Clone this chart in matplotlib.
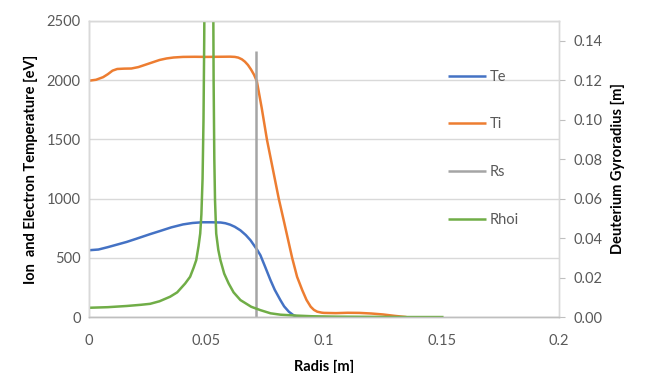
import matplotlib
matplotlib.use("Agg")
import matplotlib.pyplot as plt
from matplotlib.ticker import FixedLocator, FormatStrFormatter

plt.rcParams['font.family'] = ['Lato', 'DejaVu Sans']

# Data
te_x = [0.000, 0.004, 0.008, 0.012, 0.016, 0.020, 0.026, 0.030, 0.035, 0.040, 0.044, 0.048,
        0.052, 0.056, 0.058, 0.060, 0.062, 0.0644, 0.0667, 0.0687, 0.0715, 0.0729, 0.0750,
        0.0772, 0.0790, 0.0814, 0.0830, 0.0850, 0.0870, 0.0886, 0.0900, 0.0920]
te_y = [564, 570, 590, 612, 634, 660, 700, 725, 757, 782, 794, 800,
        800, 798, 792, 780, 762, 732, 692, 648, 568, 522, 420,
        311, 230, 143, 90, 45, 15, 3, 0, 0]

ti_x = [0.000, 0.003, 0.006, 0.008, 0.010, 0.012, 0.015, 0.018, 0.021, 0.024, 0.027, 0.030,
        0.033, 0.036, 0.040, 0.045, 0.050, 0.055, 0.060, 0.062, 0.0635, 0.065, 0.0663,
        0.0676, 0.0689, 0.0702, 0.0714, 0.0735, 0.0757, 0.078, 0.0807, 0.083, 0.0864,
        0.0885, 0.0907, 0.0925, 0.0943, 0.0957, 0.0971, 0.099, 0.100, 0.105, 0.110,
        0.115, 0.120, 0.125, 0.130, 0.135]
ti_y = [1995, 2003, 2025, 2050, 2080, 2094, 2097, 2098, 2110, 2130, 2150, 2170,
        2183, 2191, 2196, 2197, 2196, 2197, 2198, 2196, 2190, 2176, 2156,
        2128, 2090, 2045, 1990, 1760, 1496, 1268, 1000, 800, 500,
        340, 227, 145, 87, 60, 45, 37, 35, 33, 36,
        35, 30, 22, 10, 0]

rs_x = [0.0709, 0.0709]
rs_y = [0, 2250]

rhoi_x = [0.000, 0.008, 0.016, 0.022, 0.026, 0.030, 0.0345, 0.0375, 0.0409, 0.043, 0.0445,
          0.0456, 0.0466, 0.0473, 0.0478, 0.0483, 0.0487, 0.0490, 0.0493,
          0.0527, 0.0530, 0.0533, 0.0536, 0.0541, 0.0550, 0.0559, 0.0575, 0.0594, 0.0615,
          0.0644, 0.0690, 0.0729, 0.0772, 0.0814, 0.087, 0.095, 0.105, 0.120, 0.135, 0.1508]
rhoi_y = [0.0047, 0.0050, 0.0056, 0.0062, 0.0067, 0.0080, 0.0103, 0.0125, 0.0170, 0.0204, 0.0250,
          0.0288, 0.0360, 0.0423, 0.0520, 0.0700, 0.1000, 0.1400, 0.2000,
          0.2000, 0.1200, 0.0800, 0.0591, 0.0423, 0.0340, 0.0288, 0.0220, 0.0170, 0.0125,
          0.0086, 0.0052, 0.0035, 0.0019, 0.0012, 0.0008, 0.0004, 0.0002, 0.0001, 0.0000, 0.0000]

left_ticks = [0, 500, 1000, 1500, 2000, 2500]
right_ticks = [0.00, 0.02, 0.04, 0.06, 0.08, 0.10, 0.12, 0.14]
x_ticks = [0, 0.05, 0.1, 0.15, 0.2]
x_labels = ['0', '0.05', '0.1', '0.15', '0.2']

C_TE = '#4472C4'
C_TI = '#ED7D31'
C_RS = '#A5A5A5'
C_RHO = '#70AD47'
TXT = '#595959'
GRID = '#D9D9D9'

fig = plt.figure(figsize=(6.45, 3.73), dpi=100)
ax = fig.add_axes([0.138, 0.150, 0.729, 0.794])
ax2 = ax.twinx()

lw = 1.8
l1, = ax.plot(te_x, te_y, color=C_TE, lw=lw, label='Te', solid_capstyle='butt', solid_joinstyle='round')
l2, = ax.plot(ti_x, ti_y, color=C_TI, lw=lw, label='Ti', solid_capstyle='butt', solid_joinstyle='round')
l3, = ax.plot(rs_x, rs_y, color=C_RS, lw=lw, label='Rs', solid_capstyle='butt')
l4, = ax2.plot(rhoi_x, rhoi_y, color=C_RHO, lw=lw, label='Rhoi', solid_capstyle='butt', solid_joinstyle='round')

ax.set_xlim(0, 0.2)
ax.set_ylim(0, 2500)
ax2.set_ylim(0, 0.15)

ax.set_xticks(x_ticks)
ax.set_xticklabels(x_labels)
ax.set_yticks(left_ticks)
ax2.yaxis.set_major_locator(FixedLocator(right_ticks))
ax2.yaxis.set_major_formatter(FormatStrFormatter('%.2f'))

ax.yaxis.grid(True, color=GRID, lw=1.0)
ax.set_axisbelow(True)

for a in (ax, ax2):
    for s in a.spines.values():
        s.set_color(GRID)
        s.set_linewidth(1.0)
ax.spines['bottom'].set_color('#BFBFBF')
ax.spines['left'].set_color('#BFBFBF')
ax2.spines['bottom'].set_color('#BFBFBF')

ax.tick_params(axis='x', length=0, pad=12, labelsize=10.5, labelcolor=TXT)
ax.tick_params(axis='y', length=0, pad=6, labelsize=10.5, labelcolor=TXT)
ax2.tick_params(axis='y', length=4, color='#BFBFBF', pad=6, labelsize=10.5, labelcolor=TXT)

ax.set_xlabel('Radis [m]', fontweight='bold', fontsize=10.5, labelpad=9)
ax.set_ylabel('Ion  and Electron Temperature [eV]', fontweight='bold', fontsize=10.5, labelpad=6)
ax2.set_ylabel('Deuterium Gyroradius [m]', fontweight='bold', fontsize=10.5, labelpad=6)

leg = ax2.legend(handles=[l1, l2, l3, l4], loc='upper left',
                 bbox_to_anchor=(0.763, 0.835), frameon=False, borderpad=0,
                 borderaxespad=0, handlelength=2.6, handletextpad=0.3,
                 labelspacing=2.31, fontsize=10.5)
for t in leg.get_texts():
    t.set_color(TXT)

fig.savefig('out.png', dpi=100)
